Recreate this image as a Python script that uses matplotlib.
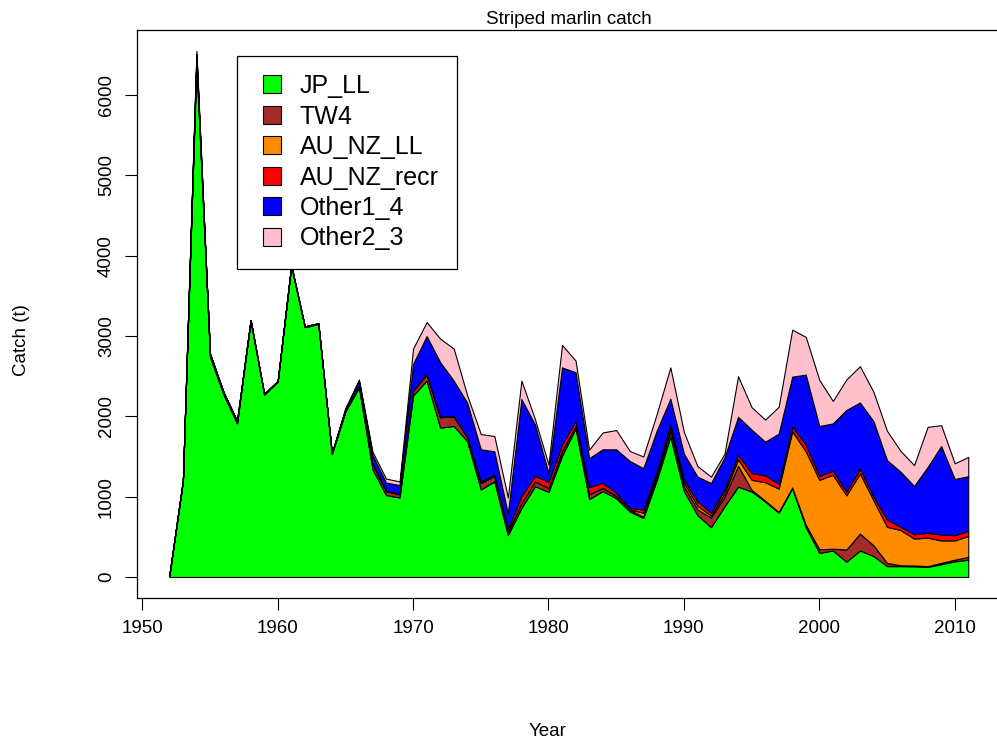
import matplotlib
matplotlib.use("Agg")
import matplotlib.pyplot as plt
from matplotlib.lines import Line2D

plt.rcParams['font.family'] = ['Liberation Sans', 'DejaVu Sans']

years = list(range(1952, 2012))

# catch by fleet (t)
jp_ll = [20, 1200, 6400, 2740, 2270, 1910, 3190, 2270, 2430, 3870,
         3110, 3150, 1530, 2060, 2360, 1340, 1020, 990, 2260, 2445,
         1860, 1880, 1690, 1090, 1190, 520, 860, 1130, 1060, 1510,
         1850, 970, 1070, 980, 815, 735, 1210, 1750, 1070, 770,
         620, 880, 1125, 1065, 940, 800, 1105, 620, 300, 330,
         190, 330, 260, 135, 135, 133, 125, 160, 195, 215]
tw4 = [0, 0, 60, 40, 30, 30, 10, 10, 10, 10,
       10, 10, 10, 15, 20, 70, 50, 40, 60, 80,
       130, 120, 50, 80, 70, 40, 60, 60, 50, 60,
       30, 60, 40, 30, 20, 15, 30, 80, 60, 70,
       120, 120, 260, 20, 10, 10, 10, 30, 45, 22,
       152, 210, 135, 40, 10, 10, 10, 15, 20, 35]
au_nz_ll = [0, 0, 0, 0, 0, 0, 0, 0, 0, 0,
            0, 0, 0, 0, 0, 0, 0, 0, 0, 0,
            0, 0, 0, 0, 0, 0, 0, 0, 0, 0,
            0, 0, 0, 0, 5, 50, 30, 20, 45, 45,
            25, 40, 80, 125, 230, 290, 700, 915, 865, 920,
            675, 748, 560, 450, 440, 335, 355, 280, 240, 260]
au_nz_recr = [0, 0, 0, 0, 0, 0, 0, 0, 0, 0,
              0, 0, 0, 0, 0, 10, 10, 5, 5, 5,
              8, 5, 5, 20, 15, 40, 85, 70, 75, 80,
              60, 90, 60, 35, 20, 40, 45, 50, 40, 55,
              35, 50, 55, 85, 85, 60, 60, 80, 50, 50,
              48, 60, 45, 90, 40, 55, 60, 75, 65, 65]
other1_4 = [0, 0, 50, 0, 0, 0, 0, 0, 0, 0,
            0, 0, 0, 25, 60, 100, 95, 110, 330, 470,
            677, 440, 425, 400, 290, 190, 1210, 640, 110, 960,
            610, 360, 420, 545, 585, 515, 510, 320, 320, 310,
            370, 400, 475, 540, 420, 625, 620, 875, 620, 590,
            1015, 825, 940, 740, 685, 600, 820, 1100, 700, 680]
other2_3 = [0, 0, 40, 0, 0, 0, 0, 0, 0, 0,
            0, 0, 0, 0, 20, 40, 50, 45, 190, 175,
            293, 400, 90, 190, 190, 200, 230, 65, 105, 280,
            145, 105, 210, 240, 125, 145, 210, 390, 270, 130,
            80, 45, 505, 280, 275, 335, 585, 470, 575, 280,
            380, 452, 365, 365, 260, 260, 500, 260, 195, 240]

fleets = ['JP_LL', 'TW4', 'AU_NZ_LL', 'AU_NZ_recr', 'Other1_4', 'Other2_3']
colours = ['#00FF00', '#A52A2A', '#FF8C00', '#FF0000', '#0000FF', '#FFC0CB']

W, H = 997, 742
fig = plt.figure(figsize=(W / 100, H / 100), dpi=100)
# plot region in pixels: left 137, right ~1000 (just past the edge), top 30, bottom 598
ax = fig.add_axes([137.4 / W, (H - 598) / H, (1000.2 - 137.4) / W, (598 - 30) / H])

ax.stackplot(years, jp_ll, tw4, au_nz_ll, au_nz_recr, other1_4, other2_3,
             colors=colours, edgecolor='black', linewidth=0.8)

# R style axis limits (4% padding)
totals = [sum(v) for v in zip(jp_ll, tw4, au_nz_ll, au_nz_recr, other1_4, other2_3)]
ymax = max(totals)
xr = years[-1] - years[0]
ax.set_xlim(years[0] - 0.04 * xr, years[-1] + 0.04 * xr)
ax.set_ylim(-0.04 * ymax, 1.04 * ymax)

ax.set_xticks(range(1950, 2011, 10))
ax.set_yticks(range(0, 7000, 1000))
ax.tick_params(direction='out', length=8.6, width=0.8, pad=7.5,
               labelsize=13.5, colors='black')
ax.tick_params(axis='y', labelrotation=90)
for lab in ax.get_yticklabels():
    lab.set_va('center')
for sp in ax.spines.values():
    sp.set_linewidth(0.9)

fig.text(568.7 / W, 1 - 19 / H, 'Striped marlin catch', ha='center', va='center', fontsize=13.5)
fig.text(548 / W, 1 - 732 / H, 'Year', ha='center', va='center', fontsize=13.5)
fig.text(21 / W, 1 - 340 / H, 'Catch (t)', ha='center', va='center', rotation=90, fontsize=13.5)

handles = [Line2D([], [], linestyle='none', marker='s', markersize=12.5,
                  markerfacecolor=c, markeredgecolor='black', markeredgewidth=0.8)
           for c in colours]
leg = ax.legend(handles, fleets, loc='upper left', bbox_to_anchor=(237 / W, 1 - 56 / H),
                bbox_transform=fig.transFigure, borderaxespad=0, fontsize=18,
                fancybox=False, framealpha=1, edgecolor='black', borderpad=0.72,
                labelspacing=0.26, handlelength=1.32, handletextpad=0.48)
leg.get_frame().set_linewidth(0.9)

fig.savefig('out.png', dpi=100)
